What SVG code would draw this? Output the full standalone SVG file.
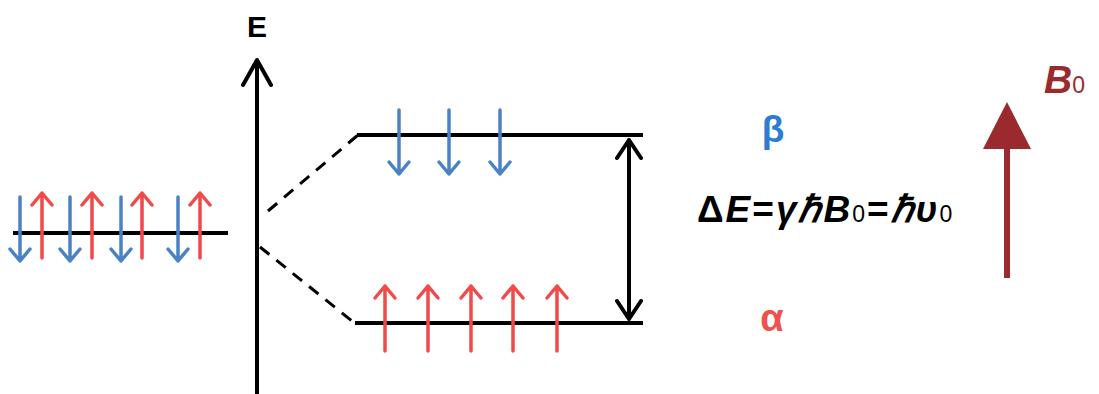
<svg xmlns="http://www.w3.org/2000/svg" width="1099" height="394" viewBox="0 0 1099 394">
<style>
.lvl{stroke:#000;stroke-width:4;fill:none}
.blue{stroke:#4a82c4;stroke-width:3.5;fill:none;stroke-linecap:round;stroke-linejoin:round}
.red{stroke:#f04a4a;stroke-width:3.5;fill:none;stroke-linecap:round;stroke-linejoin:round}
.blk{stroke:#000;stroke-width:4;fill:none;stroke-linejoin:round}
.dash{stroke:#000;stroke-width:3;fill:none;stroke-dasharray:12,9}
.t{font-family:"Liberation Sans",Arial,sans-serif;font-weight:bold}
</style>
<defs>
<g id="dn"><path class="blue" d="M0,-35 V29 M-10,17 L0,29 L10,17"/></g>
<g id="up"><path class="red" d="M0,33 V-32 M-10,-20 L0,-32 L10,-20"/></g>
</defs>
<g id="left-level">
<line class="lvl" x1="13" y1="233" x2="228" y2="233"/>
<use href="#dn" x="20" y="232"/>
<use href="#up" x="42" y="225"/>
<use href="#dn" x="70" y="232"/>
<use href="#up" x="92" y="225"/>
<use href="#dn" x="121" y="232"/>
<use href="#up" x="142" y="225"/>
<use href="#dn" x="178" y="232"/>
<use href="#up" x="200" y="225"/>
</g>
<g id="axis">
<path class="blk" d="M257,394 V60" stroke-width="5"/>
<path class="blk" d="M243,85 L257,60 L271,85" stroke-width="5" stroke-linecap="round"/>
<text class="t" x="257" y="37" font-size="30" text-anchor="middle">E</text>
</g>
<g id="beta-level">
<line class="lvl" x1="357" y1="135" x2="643" y2="135"/>
<use href="#dn" x="399" y="145"/>
<use href="#dn" x="449" y="145"/>
<use href="#dn" x="500" y="145"/>
</g>
<g id="alpha-level">
<line class="lvl" x1="355" y1="323" x2="643" y2="323"/>
<use href="#up" x="385" y="318"/>
<use href="#up" x="428" y="318"/>
<use href="#up" x="471" y="318"/>
<use href="#up" x="513" y="318"/>
<use href="#up" x="557" y="318"/>
</g>
<g id="connectors">
<line class="dash" x1="268" y1="211" x2="358" y2="135"/>
<line class="dash" x1="260" y1="247" x2="352" y2="321"/>
<path class="blk" d="M629,140 V319 M617,158 L629,140 L641,158 M617,301 L629,319 L641,301" stroke-linecap="round"/>
</g>
<g id="labels">
<text class="t" x="773" y="142" font-size="37" fill="#2a7dd0" text-anchor="middle">β</text>
<text class="t" x="772" y="331" font-size="38" fill="#f05050" text-anchor="middle">α</text>
<text class="t" x="697" y="222" font-size="37" fill="#000" letter-spacing="2">Δ<tspan font-style="italic">E</tspan>=<tspan font-style="italic">γℏB</tspan><tspan font-weight="normal" font-size="23">0</tspan>=<tspan font-style="italic">ℏυ</tspan><tspan font-weight="normal" font-size="23">0</tspan></text>
</g>
<g id="B0">
<path d="M1007,148 V278" stroke="#9b2a2e" stroke-width="6" fill="none"/>
<polygon points="1007,102 983,149 1031,149" fill="#9b2a2e"/>
<text class="t" x="1044" y="93" font-size="39" fill="#9b2a2e" font-style="italic">B<tspan font-style="normal" font-weight="normal" font-size="23">0</tspan></text>
</g>
</svg>
